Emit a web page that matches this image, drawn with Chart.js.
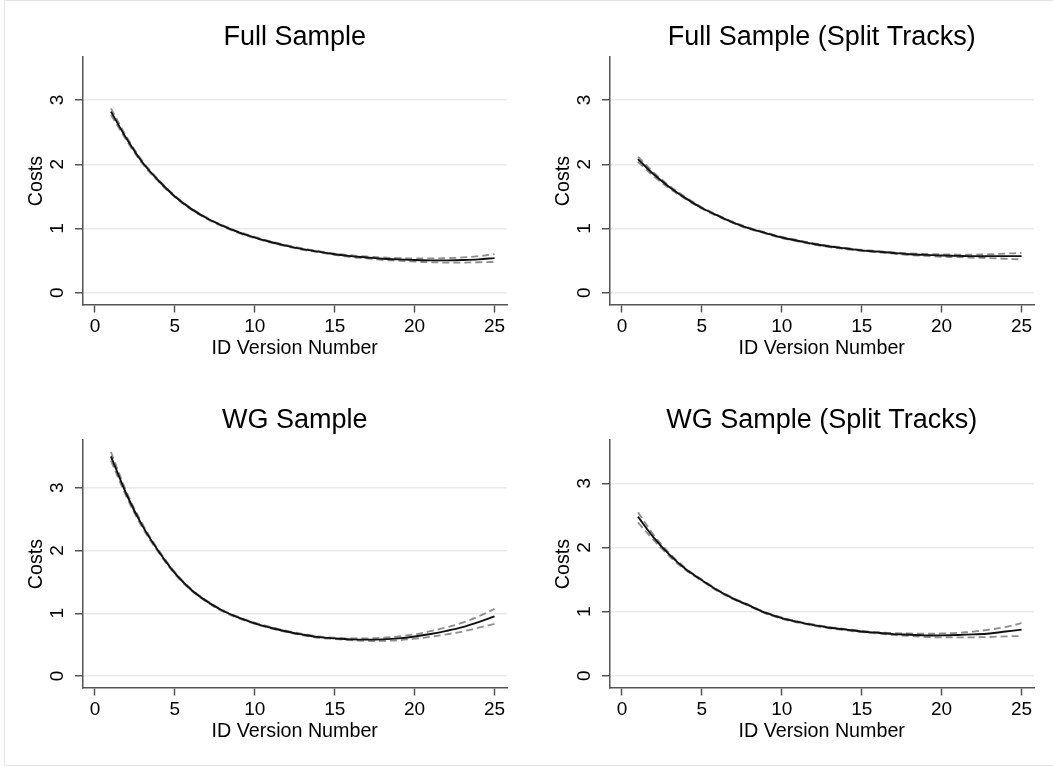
<!DOCTYPE html>
<html>
<head>
<meta charset="utf-8">
<script src="https://cdn.jsdelivr.net/npm/chart.js@4.4.1/dist/chart.umd.min.js"></script>
<style>
    body { margin: 0; background: #fff; }
    #page { position: relative; width: 1053px; height: 766px; overflow: hidden; }
    #frame {
        position: absolute; left: 4px; top: 0; width: 1060px; height: 764px;
        border-top: 1px solid #e4e4e4; border-left: 1px solid #e4e4e4; border-bottom: 1px solid #e4e4e4;
    }
    canvas { position: absolute; }
</style>
</head>
<body>
<div id="page">
    <div id="frame"></div>
    <canvas id="fullSampleChart" width="527" height="383" style="left:0;top:0"></canvas>
    <canvas id="fullSplitChart" width="526" height="383" style="left:527px;top:0"></canvas>
    <canvas id="wgSampleChart" width="527" height="383" style="left:0;top:383px"></canvas>
    <canvas id="wgSplitChart" width="526" height="383" style="left:527px;top:383px"></canvas>
</div>
<script>
const versionNumbers = [1, 2, 3, 4, 5, 6, 7, 8, 9, 10, 11, 12, 13, 14, 15, 16, 17, 18, 19, 20, 21, 22, 23, 24, 25];
const xTickValues = [0, 5, 10, 15, 20, 25];
const yTickValues = [0, 1, 2, 3];

// Full Sample
const fullEst = [2.82, 2.39, 2.02, 1.74, 1.50, 1.31, 1.16, 1.04, 0.94, 0.86, 0.79, 0.73, 0.68, 0.64, 0.60, 0.57, 0.55, 0.53, 0.52, 0.51, 0.505, 0.505, 0.51, 0.52, 0.54];
const fullUpper = [2.87, 2.42, 2.04, 1.755, 1.51, 1.32, 1.17, 1.05, 0.95, 0.87, 0.80, 0.74, 0.69, 0.65, 0.61, 0.585, 0.565, 0.55, 0.54, 0.535, 0.535, 0.54, 0.55, 0.57, 0.60];
const fullLower = [2.77, 2.36, 2.00, 1.725, 1.49, 1.30, 1.15, 1.03, 0.93, 0.85, 0.78, 0.72, 0.67, 0.63, 0.59, 0.555, 0.535, 0.51, 0.50, 0.485, 0.475, 0.47, 0.47, 0.475, 0.48];

// Full Sample (Split Tracks)
const fullSplitEst = [2.08, 1.84, 1.64, 1.47, 1.32, 1.20, 1.09, 1.00, 0.93, 0.86, 0.81, 0.76, 0.72, 0.69, 0.66, 0.64, 0.62, 0.60, 0.59, 0.58, 0.575, 0.57, 0.57, 0.57, 0.57];
const fullSplitUpper = [2.12, 1.87, 1.66, 1.485, 1.33, 1.21, 1.10, 1.01, 0.94, 0.87, 0.82, 0.77, 0.73, 0.70, 0.67, 0.65, 0.63, 0.615, 0.605, 0.60, 0.595, 0.595, 0.60, 0.61, 0.62];
const fullSplitLower = [2.04, 1.81, 1.62, 1.455, 1.31, 1.19, 1.08, 0.99, 0.92, 0.85, 0.80, 0.75, 0.71, 0.68, 0.65, 0.63, 0.61, 0.585, 0.575, 0.56, 0.555, 0.545, 0.54, 0.53, 0.52];

// WG Sample
const wgEst = [3.50, 2.88, 2.38, 1.98, 1.64, 1.38, 1.19, 1.04, 0.93, 0.84, 0.77, 0.71, 0.66, 0.62, 0.60, 0.585, 0.58, 0.585, 0.60, 0.63, 0.67, 0.72, 0.78, 0.86, 0.95];
const wgUpper = [3.57, 2.92, 2.41, 2.00, 1.655, 1.39, 1.20, 1.05, 0.94, 0.85, 0.78, 0.72, 0.67, 0.63, 0.61, 0.60, 0.60, 0.61, 0.63, 0.665, 0.715, 0.775, 0.85, 0.95, 1.07];
const wgLower = [3.43, 2.84, 2.35, 1.96, 1.625, 1.37, 1.18, 1.03, 0.92, 0.83, 0.76, 0.70, 0.65, 0.61, 0.59, 0.57, 0.56, 0.56, 0.57, 0.595, 0.625, 0.665, 0.71, 0.77, 0.83];

// WG Sample (Split Tracks)
const wgSplitEst = [2.48, 2.15, 1.88, 1.66, 1.49, 1.33, 1.20, 1.09, 0.98, 0.90, 0.84, 0.79, 0.75, 0.72, 0.69, 0.67, 0.65, 0.64, 0.63, 0.63, 0.635, 0.645, 0.66, 0.69, 0.72];
const wgSplitUpper = [2.55, 2.19, 1.905, 1.675, 1.50, 1.34, 1.21, 1.10, 0.99, 0.91, 0.85, 0.80, 0.76, 0.73, 0.70, 0.68, 0.665, 0.66, 0.655, 0.66, 0.67, 0.69, 0.72, 0.76, 0.82];
const wgSplitLower = [2.39, 2.11, 1.855, 1.645, 1.48, 1.32, 1.19, 1.08, 0.97, 0.89, 0.83, 0.78, 0.74, 0.71, 0.68, 0.66, 0.635, 0.62, 0.605, 0.60, 0.60, 0.60, 0.605, 0.615, 0.62];

Chart.defaults.font.family = '"Liberation Sans", Arial, Helvetica, sans-serif';
Chart.defaults.color = '#000';

function toPoints(values) {
    return versionNumbers.map((x, i) => ({ x: x, y: values[i] }));
}

function renderPanel(canvasId, title, est, upper, lower, yMax, padRight) {
    const ctx = document.getElementById(canvasId).getContext('2d');
    const band = { borderColor: '#8e8e8e', borderWidth: 1.8, borderDash: [7, 4], pointRadius: 0, tension: 0.35, fill: false };
    new Chart(ctx, {
        type: 'line',
        data: {
            datasets: [
                { label: 'Estimate', data: toPoints(est), borderColor: '#111', borderWidth: 1.9, pointRadius: 0, tension: 0.35, fill: false },
                Object.assign({ label: 'Upper', data: toPoints(upper) }, band),
                Object.assign({ label: 'Lower', data: toPoints(lower) }, band)
            ]
        },
        options: {
            responsive: false,
            animation: false,
            devicePixelRatio: 1,
            layout: { autoPadding: false, padding: { top: 21.5, left: 0, right: padRight, bottom: 23 } },
            plugins: {
                legend: { display: false },
                tooltip: { enabled: false },
                title: {
                    display: true,
                    text: title,
                    fullSize: false,
                    color: '#000',
                    font: { size: 27, weight: 'normal' },
                    padding: { top: 0, bottom: 3.1 }
                }
            },
            scales: {
                x: {
                    type: 'linear',
                    min: -0.78,
                    max: 25.78,
                    afterBuildTicks: (scale) => { scale.ticks = xTickValues.map(v => ({ value: v })); },
                    afterFit: (scale) => { scale.height = 55; },
                    grid: { drawOnChartArea: false, drawTicks: true, tickLength: 7.5, tickColor: '#555', tickWidth: 1.5 },
                    border: { display: true, color: '#555', width: 1.5 },
                    ticks: { font: { size: 19 }, padding: 3, color: '#000', maxRotation: 0 },
                    title: { display: true, text: 'ID Version Number', font: { size: 19.7 }, padding: { top: 0, bottom: 0 }, color: '#000' }
                },
                y: {
                    type: 'linear',
                    min: -0.19,
                    max: yMax,
                    afterBuildTicks: (scale) => { scale.ticks = yTickValues.map(v => ({ value: v })); },
                    afterFit: (scale) => { scale.width = 82.5; },
                    grid: { color: '#e9e9e9', lineWidth: 1.5, drawTicks: true, tickLength: 7.5, tickColor: '#555', tickWidth: 1.5 },
                    border: { display: true, color: '#555', width: 1.5 },
                    ticks: { font: { size: 19 }, padding: 12, color: '#000', minRotation: 90, maxRotation: 90, crossAlign: 'center' },
                    title: { display: true, text: 'Costs', font: { size: 19.7 }, padding: { top: 25, bottom: 0 }, color: '#000' }
                }
            }
        }
    });
}

renderPanel('fullSampleChart', 'Full Sample', fullEst, fullUpper, fullLower, 3.67, 20);
renderPanel('fullSplitChart', 'Full Sample (Split Tracks)', fullSplitEst, fullSplitUpper, fullSplitLower, 3.67, 19);
renderPanel('wgSampleChart', 'WG Sample', wgEst, wgUpper, wgLower, 3.76, 20);
renderPanel('wgSplitChart', 'WG Sample (Split Tracks)', wgSplitEst, wgSplitUpper, wgSplitLower, 3.675, 19);
</script>
</body>
</html>
